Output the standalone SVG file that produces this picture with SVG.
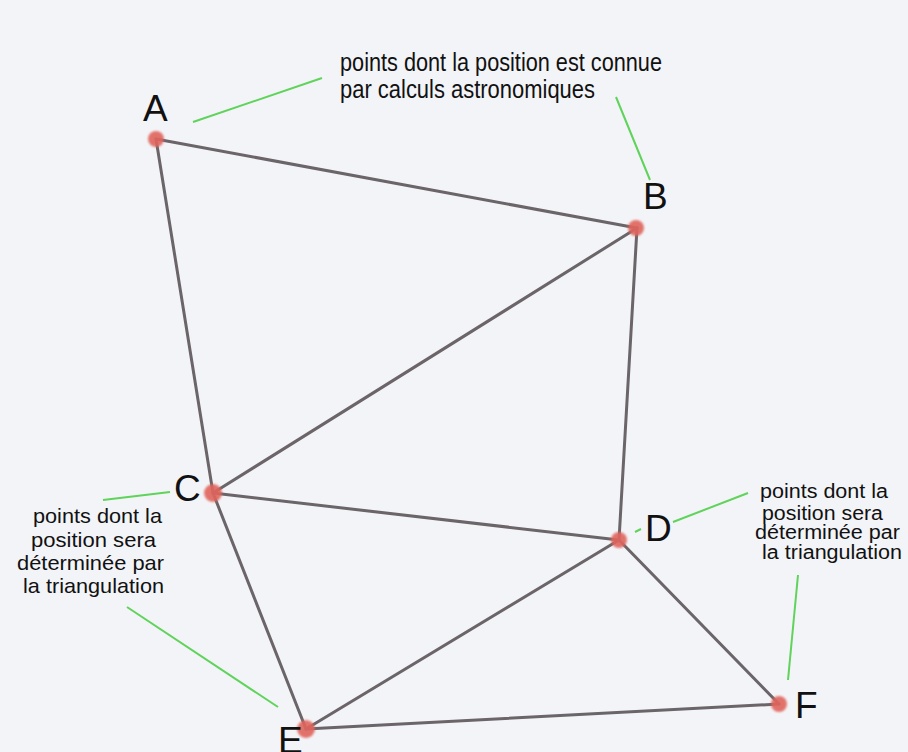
<svg xmlns="http://www.w3.org/2000/svg" width="908" height="752" viewBox="0 0 908 752">
<defs>
<style>
.edge{stroke:#6b6468;stroke-width:3;stroke-linecap:round;fill:none}
.lead{stroke:#5fd35a;stroke-width:2;fill:none}
.dot{fill:#e0655c;opacity:0.9}
.lbl{font-family:"Liberation Sans",Arial,sans-serif;font-size:37px;fill:#111}
.note{font-family:"Liberation Sans",Arial,sans-serif;font-size:25px;fill:#111}
.note2{font-family:"Liberation Sans",Arial,sans-serif;font-size:21px;fill:#111}
.note3{font-family:"Liberation Sans",Arial,sans-serif;font-size:20px;fill:#111}
</style>
<filter id="blur" x="-50%" y="-50%" width="200%" height="200%"><feGaussianBlur stdDeviation="1"/></filter>
</defs>
<rect width="908" height="752" fill="#f3f4f8"/>
<g id="connectors">
<line class="edge" x1="156" y1="139" x2="637" y2="228"/>
<line class="edge" x1="156" y1="139" x2="213" y2="493"/>
<line class="edge" x1="213" y1="493" x2="637" y2="228"/>
<line class="edge" x1="637" y1="228" x2="619" y2="540"/>
<line class="edge" x1="213" y1="493" x2="619" y2="540"/>
<line class="edge" x1="213" y1="493" x2="306" y2="729"/>
<line class="edge" x1="306" y1="729" x2="619" y2="540"/>
<line class="edge" x1="619" y1="540" x2="779" y2="704"/>
<line class="edge" x1="306" y1="729" x2="779" y2="704"/>
</g>
<g id="leaders">
<line class="lead" x1="193" y1="122" x2="322" y2="78"/>
<line class="lead" x1="616" y1="97" x2="650" y2="180"/>
<line class="lead" x1="103" y1="500" x2="170" y2="492"/>
<line class="lead" x1="127" y1="607" x2="278" y2="707"/>
<line class="lead" x1="673" y1="522" x2="748" y2="493"/>
<line class="lead" x1="635" y1="532" x2="641" y2="529"/>
<line class="lead" x1="798" y1="575" x2="788" y2="680"/>
</g>
<g id="node-A"><circle class="dot" cx="156" cy="139" r="8" filter="url(#blur)"/><text class="lbl" x="143" y="121">A</text></g>
<g id="node-B"><circle class="dot" cx="636" cy="228" r="8" filter="url(#blur)"/><text class="lbl" x="643" y="209">B</text></g>
<g id="node-C"><circle class="dot" cx="213" cy="493" r="9" filter="url(#blur)"/><text class="lbl" x="174" y="501">C</text></g>
<g id="node-D"><circle class="dot" cx="619" cy="540" r="8" filter="url(#blur)"/><text class="lbl" x="645" y="541">D</text></g>
<g id="node-E"><circle class="dot" cx="306" cy="729" r="9" filter="url(#blur)"/><text class="lbl" x="278" y="753">E</text></g>
<g id="node-F"><circle class="dot" cx="779" cy="704" r="8" filter="url(#blur)"/><text class="lbl" x="795" y="718">F</text></g>
<g id="note-top">
<text class="note" x="340" y="71" textLength="322" lengthAdjust="spacingAndGlyphs">points dont la position est connue</text>
<text class="note" x="340" y="98" textLength="255" lengthAdjust="spacingAndGlyphs">par calculs astronomiques</text>
</g>
<g id="note-left">
<text class="note2" x="33" y="523" textLength="129" lengthAdjust="spacingAndGlyphs">points dont la</text>
<text class="note2" x="31" y="547" textLength="125" lengthAdjust="spacingAndGlyphs">position sera</text>
<text class="note2" x="17" y="570" textLength="147" lengthAdjust="spacingAndGlyphs">déterminée par</text>
<text class="note2" x="23" y="593" textLength="141" lengthAdjust="spacingAndGlyphs">la triangulation</text>
</g>
<g id="note-right">
<text class="note3" x="760" y="498" textLength="128" lengthAdjust="spacingAndGlyphs">points dont la</text>
<text class="note3" x="762" y="520" textLength="121" lengthAdjust="spacingAndGlyphs">position sera</text>
<text class="note3" x="755" y="539" textLength="145" lengthAdjust="spacingAndGlyphs">déterminée par</text>
<text class="note3" x="762" y="559" textLength="140" lengthAdjust="spacingAndGlyphs">la triangulation</text>
</g>
</svg>
